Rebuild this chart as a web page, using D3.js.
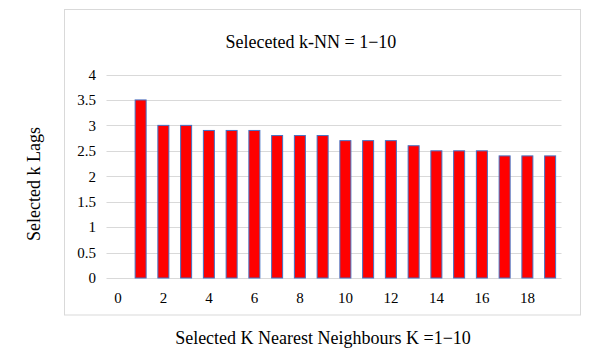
<!DOCTYPE html>
<html>
<head>
<meta charset="utf-8">
<script src="https://cdn.jsdelivr.net/npm/d3@7"></script>
<style>
  body { margin: 0; background: #fff; }
  text { font-family: "Liberation Serif", "Times New Roman", serif; fill: #000; }
</style>
</head>
<body>
<div id="chart"></div>
<script>
// data
const categories = d3.range(0, 20);
const kValues = [1, 2, 3, 4, 5, 6, 7, 8, 9, 10, 11, 12, 13, 14, 15, 16, 17, 18, 19];
const lagValues = [3.5, 3, 3, 2.9, 2.9, 2.9, 2.8, 2.8, 2.8, 2.7, 2.7, 2.7, 2.6, 2.5, 2.5, 2.5, 2.4, 2.4, 2.4];
const yTicks = [0, 0.5, 1, 1.5, 2, 2.5, 3, 3.5, 4];
const xTickLabels = [0, 2, 4, 6, 8, 10, 12, 14, 16, 18];

const width = 599, height = 359;
const margin = { top: 74.5, right: 37.5, bottom: 81, left: 106.5 };

const svg = d3.select("#chart").append("svg")
  .attr("width", width)
  .attr("height", height);

// outer frame
svg.append("rect")
  .attr("x", 64.5).attr("y", 9.5)
  .attr("width", 516).attr("height", 305.5)
  .attr("fill", "none")
  .attr("stroke", "#d9d9d9");

const xc = d3.scalePoint()
  .domain(categories)
  .range([margin.left, width - margin.right])
  .padding(0.5);

const y = d3.scaleLinear()
  .domain([0, 4])
  .range([height - margin.bottom, margin.top]);

// gridlines
svg.append("g")
  .selectAll("line")
  .data(yTicks)
  .join("line")
  .attr("x1", margin.left)
  .attr("x2", width - margin.right)
  .attr("y1", d => Math.round(y(d)) + 0.5)
  .attr("y2", d => Math.round(y(d)) + 0.5)
  .attr("stroke", "#d9d9d9")
  .attr("stroke-width", 1);

// y labels
svg.append("g")
  .selectAll("text")
  .data(yTicks)
  .join("text")
  .attr("x", 96)
  .attr("y", d => y(d))
  .attr("dy", "0.35em")
  .attr("text-anchor", "end")
  .style("font-size", "15px")
  .text(d => d);

// x labels
svg.append("g")
  .selectAll("text")
  .data(xTickLabels)
  .join("text")
  .attr("x", d => xc(d))
  .attr("y", 303)
  .attr("text-anchor", "middle")
  .style("font-size", "15px")
  .text(d => d);

// bars
const bw = 11;
svg.append("g")
  .selectAll("rect")
  .data(kValues.map((k, i) => ({ k: k, v: lagValues[i] })))
  .join("rect")
  .attr("x", d => xc(d.k) - bw / 2)
  .attr("y", d => y(d.v))
  .attr("width", bw)
  .attr("height", d => y(0) - y(d.v))
  .attr("fill", "#ff0000")
  .attr("stroke", "#4472c4")
  .attr("stroke-width", 1);

// title
svg.append("text")
  .attr("x", 311)
  .attr("y", 48)
  .attr("text-anchor", "middle")
  .style("font-size", "18px")
  .text("Seleceted k-NN = 1\u221210");

// axis titles
svg.append("text")
  .attr("transform", "translate(40, 184) rotate(-90)")
  .attr("text-anchor", "middle")
  .style("font-size", "18px")
  .text("Selected k Lags");

svg.append("text")
  .attr("x", 323)
  .attr("y", 344)
  .attr("text-anchor", "middle")
  .style("font-size", "18px")
  .text("Selected K Nearest Neighbours K =1\u221210");
</script>
</body>
</html>
